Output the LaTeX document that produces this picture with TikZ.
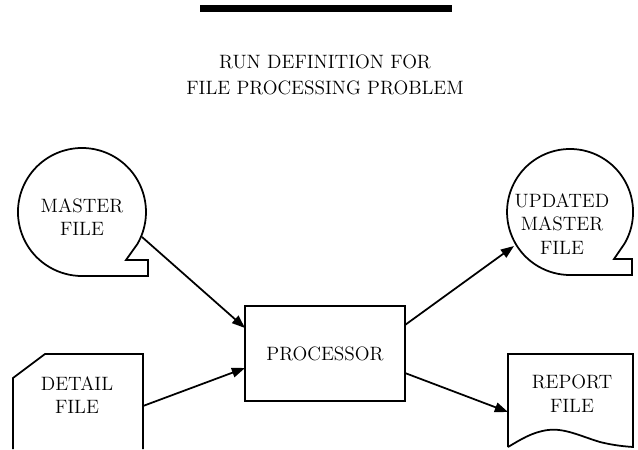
\documentclass[tikz,border=0pt]{standalone}
\usepackage{tikz}
\usetikzlibrary{arrows.meta, calc}

\begin{document}
\begin{tikzpicture}[x=0.02cm, y=-0.02cm,
	lbl/.style={align=center, font=\fontsize{11}{13.5}\selectfont},
	outl/.style={line width=1pt},
	flow/.style={line width=1pt, -{Triangle[length=7.5pt, width=5.5pt]}}]

	\useasboundingbox (0,0) rectangle (638,449);

	\draw[line width=4pt] (200,8.5) -- (452,8.5);
	\node[lbl] (title1) at (325,62) {RUN DEFINITION FOR};
	\node[lbl] (title2) at (325,88) {FILE PROCESSING PROBLEM};

	\draw[outl] (82,276) -- (148,276) -- (148,260) -- (126,260) -- (137.4,244)
		arc[start angle=30, end angle=-270, radius=64] -- cycle;
	\node[lbl] (master) at (82,217) {MASTER\\FILE};

	\draw[outl] (570,275) -- (632,275) -- (632,259) -- (614,259) -- (624.6,243.5)
		arc[start angle=30, end angle=-270, radius=63] -- cycle;
	\node[lbl] (updated) at (562,224) {UPDATED\\MASTER\\FILE};

	\draw[outl] (13,449) -- (13,378) -- (45,354) -- (143,354) -- (143,449);
	\node[lbl] (detail) at (77,395) {DETAIL\\FILE};

	\draw[outl] (508,447) -- (508,354) -- (633,354) -- (633,447)
		.. controls (618,446) and (608,444) .. (600,442)
		.. controls (580,436) and (565,428) .. (548,430)
		.. controls (532,432) and (520,440) .. (508,447);
	\node[lbl] (report) at (572,394) {REPORT\\FILE};

	\node[lbl, draw, outl, minimum width=3.2cm, minimum height=1.9cm] (proc) at (325,353.5) {PROCESSOR};

	\coordinate (m1) at (142,237);
	\coordinate (d1) at (143,406);
	\coordinate (u1) at (514,246);
	\coordinate (r1) at (508,412);
	\coordinate (p1) at (245,328);
	\coordinate (p2) at (245,368);
	\coordinate (p3) at (405,325);
	\coordinate (p4) at (405,373);

	\draw[flow] (m1) -- (p1);
	\draw[flow] (d1) -- (p2);
	\draw[flow] (p3) -- (u1);
	\draw[flow] (p4) -- (r1);
\end{tikzpicture}
\end{document}
